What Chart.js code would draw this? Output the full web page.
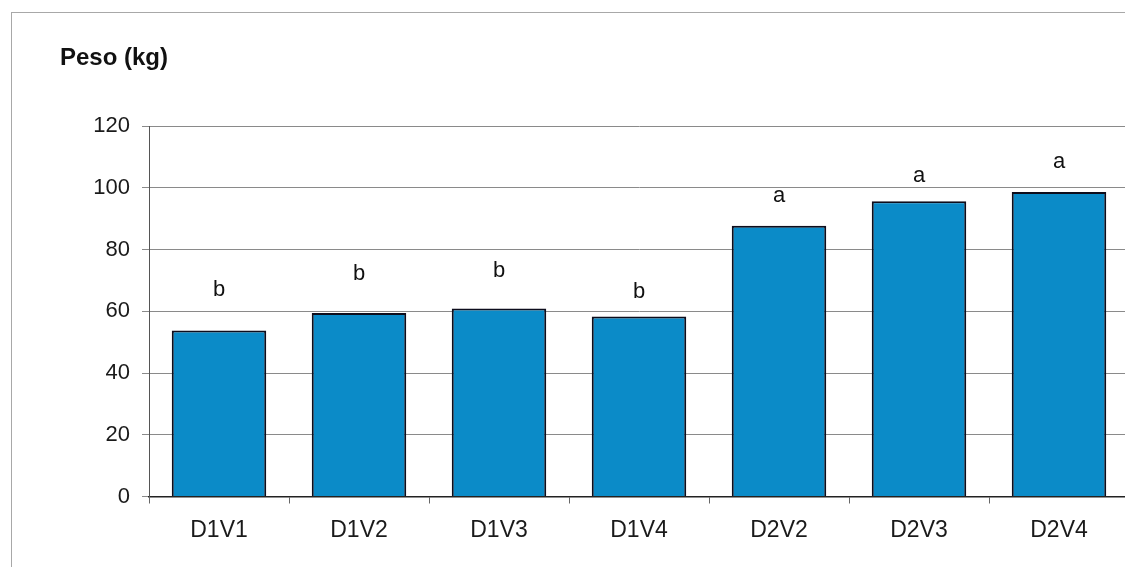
<!DOCTYPE html>
<html>
<head>
<meta charset="utf-8">
<script src="https://cdn.jsdelivr.net/npm/chart.js@4/dist/chart.umd.min.js"></script>
<style>
  html, body { margin: 0; padding: 0; background: #fff; overflow: hidden; }
  #quadro { position: absolute; left: 11px; top: 12px; width: 1200px; height: 700px;
            border-top: 1px solid #a8a8a8; border-left: 1px solid #a8a8a8; }
  #wrap { position: absolute; left: 0; top: 0; width: 1130px; height: 567px; }
</style>
</head>
<body>
<div id="quadro"></div>
<div id="wrap"><canvas id="grafico" width="1130" height="567"></canvas></div>
<script>
const tratamentos = ['D1V1', 'D1V2', 'D1V3', 'D1V4', 'D2V2', 'D2V3', 'D2V4']
const peso = [53.8, 59.4, 60.9, 58.3, 87.7, 95.6, 98.6]
const letras = ['b', 'b', 'b', 'b', 'a', 'a', 'a']
// altura (em kg) onde cada letra foi escrita no grafico
const alturaLetra = [67.0, 72.2, 73.2, 66.1, 97.2, 103.7, 108.2]
const ticksY = [0, 20, 40, 60, 80, 100, 120]

const fonte = "'Liberation Sans', Arial, sans-serif"

const letrasPlugin = {
    id: 'letras',
    afterDatasetsDraw(chart) {
        const ctx = chart.ctx
        const x = chart.scales.x
        const y = chart.scales.y
        ctx.save()
        ctx.fillStyle = '#111'
        ctx.font = '22px ' + fonte
        ctx.textAlign = 'center'
        ctx.textBaseline = 'middle'
        letras.forEach((l, i) => {
            ctx.fillText(l, x.getPixelForValue(i), y.getPixelForValue(alturaLetra[i]))
        })
        ctx.restore()
    }
}

new Chart(document.getElementById('grafico'), {
    type: 'bar',
    data: {
        labels: tratamentos,
        datasets: [{
            label: 'Peso (kg)',
            data: peso,
            backgroundColor: '#0b8bc8',
            borderColor: '#0d0d1c',
            borderWidth: 2,
            categoryPercentage: 1,
            barPercentage: 0.675
        }]
    },
    options: {
        responsive: false,
        animation: false,
        events: [],
        layout: { padding: { left: 60, right: 1, top: 0, bottom: 20.5 } },
        plugins: {
            legend: { display: false },
            tooltip: { enabled: false },
            title: {
                display: true,
                text: 'Peso (kg)',
                align: 'start',
                color: '#111',
                font: { family: fonte, size: 24, weight: 'bold' },
                padding: { top: 44, bottom: 53.2 }
            }
        },
        scales: {
            x: {
                afterFit: (s) => { s.height = 50 },
                grid: { drawOnChartArea: false, drawTicks: true, tickLength: 7, color: '#666' },
                border: { color: '#222', width: 1.5 },
                ticks: { color: '#1a1a1a', padding: 13, font: { family: fonte, size: 23 } }
            },
            y: {
                min: 0,
                max: 120,
                afterFit: (s) => { s.width = 89 },
                afterBuildTicks: (s) => { s.ticks = ticksY.map(v => ({ value: v })) },
                grid: { color: '#8a8a8a', tickLength: 7, drawTicks: true },
                border: { color: '#555' },
                ticks: { color: '#1a1a1a', padding: 12, font: { family: fonte, size: 22 } }
            }
        }
    },
    plugins: [letrasPlugin]
})
</script>
</body>
</html>
